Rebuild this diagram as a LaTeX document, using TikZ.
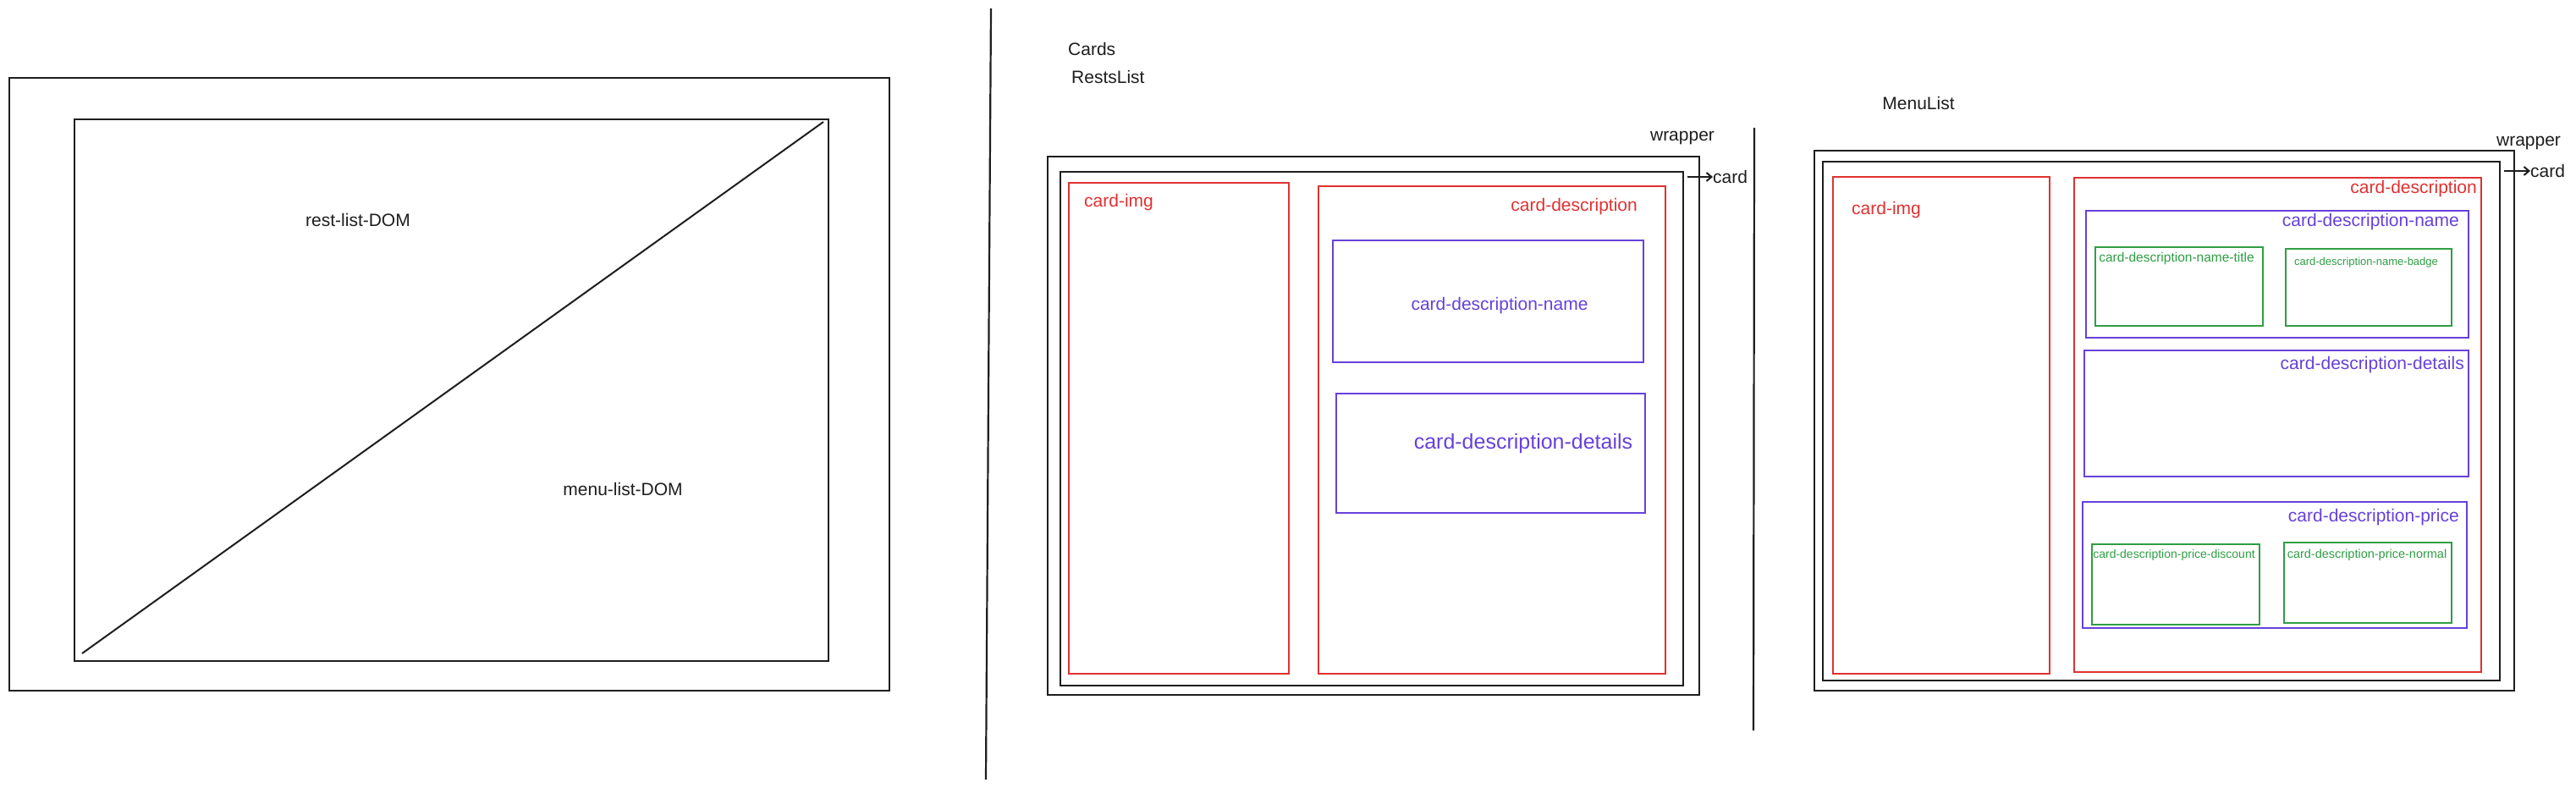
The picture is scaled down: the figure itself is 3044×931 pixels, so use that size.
\documentclass[tikz,border=0pt]{standalone}
\usepackage{fontspec}
\setmainfont{Liberation Sans}
\usetikzlibrary{arrows.meta}
\definecolor{ink}{HTML}{1E1E1E}
\definecolor{xred}{HTML}{E03131}
\definecolor{xblue}{HTML}{6741D9}
\definecolor{xgreen}{HTML}{2F9E44}
\newcommand\rbox[6]{\node[#2, anchor=north west, minimum width={#5-#3}, minimum height={#6-#4}] (#1) at (#3,#4) {};}
\tikzset{
  blackbox/.style={draw=ink, line width=2.2pt, inner sep=0pt},
  redbox/.style={draw=xred, line width=1.9pt, inner sep=0pt},
  bluebox/.style={draw=xblue, line width=1.9pt, inner sep=0pt},
  greenbox/.style={draw=xgreen, line width=1.8pt, inner sep=0pt},
  lbl/.style={inner sep=0pt, text=ink, font=\fontsize{21}{25}\selectfont},
  redlbl/.style={lbl, text=xred},
  bluelbl/.style={lbl, text=xblue},
  greenlbl/.style={lbl, text=xgreen, font=\fontsize{14.5}{17}\selectfont},
  divider/.style={draw=ink, line width=2.2pt},
  arr/.style={draw=ink, line width=2pt, -{Straight Barb[length=6pt,width=10pt]}},
}
\begin{document}
\begin{tikzpicture}[x=1pt,y=-1pt]
\useasboundingbox[fill=white] (0,0) rectangle (3044,931);

% ---------- left panel ----------
\rbox{louter}{blackbox}{10}{91}{1050}{815}
\rbox{linner}{blackbox}{87}{140}{978}{780}
\coordinate (dA) at (97,772);
\coordinate (dB) at (973,144);
\draw[divider, line width=2pt] (dA) -- (dB);
\node[lbl] (restdom) at (423,260) {rest-list-DOM};
\node[lbl] (menudom) at (736,578) {menu-list-DOM};

% dividers
\coordinate (v1a) at (1171,10);
\coordinate (v1b) at (1165,921);
\draw[divider] (v1a) -- (v1b);
\coordinate (v2a) at (2073,151);
\coordinate (v2b) at (2072,863);
\draw[divider] (v2a) -- (v2b);

% ---------- middle panel ----------
\node[lbl, anchor=west] (cards) at (1262,58) {Cards};
\node[lbl, anchor=west] (restslist) at (1266,91) {RestsList};
\rbox{mwrap}{blackbox}{1237}{184}{2007}{820}
\rbox{mcard}{blackbox}{1252}{202}{1988}{809}
\node[lbl] (mwraplbl) at (1988,163) {wrapper};
\node[lbl, anchor=west] (mcardlbl) at (2024,209) {card};
\coordinate (marr) at (1994,209);
\draw[arr] (marr) -- (mcardlbl.west);
\rbox{mimg}{redbox}{1262}{215}{1522}{795}
\node[redlbl, anchor=west] (mimglbl) at (1281,239) {card-img};
\rbox{mdesc}{redbox}{1557}{219}{1967}{795}
\node[redlbl, anchor=east] (mdesclbl) at (1935,244) {card-description};
\rbox{mname}{bluebox}{1574}{283}{1941}{427}
\node[bluelbl] (mnamelbl) at (1772,361) {card-description-name};
\rbox{mdet}{bluebox}{1578}{464}{1943}{605}
\node[bluelbl, font=\fontsize{25}{30}\selectfont] (mdetlbl) at (1800,524) {card-description-details};

% ---------- right panel ----------
\node[lbl] (menulist) at (2267,122) {MenuList};
\rbox{rwrap}{blackbox}{2143}{177}{2970}{815}
\rbox{rcard}{blackbox}{2153}{190}{2953}{803}
\node[lbl] (rwraplbl) at (2988,169) {wrapper};
\node[lbl, anchor=west] (rcardlbl) at (2990,202) {card};
\coordinate (rarr) at (2959,202);
\draw[arr] (rarr) -- (rcardlbl.west);
\rbox{rimg}{redbox}{2165}{208}{2421}{795}
\node[redlbl] (rimglbl) at (2229,248) {card-img};
\rbox{rdesc}{redbox}{2450}{209}{2931}{793}
\node[redlbl, anchor=east] (rdesclbl) at (2927,223) {card-description};
\rbox{rname}{bluebox}{2464}{248}{2916}{398}
\node[bluelbl, anchor=east] (rnamelbl) at (2906,262) {card-description-name};
\rbox{rtitle}{greenbox}{2475}{291}{2673}{384}
\node[greenlbl, font=\fontsize{15.5}{18}\selectfont] (rtitlelbl) at (2572,305) {card-description-name-title};
\rbox{rbadge}{greenbox}{2700}{293}{2896}{384}
\node[greenlbl, font=\fontsize{13}{16}\selectfont] (rbadgelbl) at (2796,310) {card-description-name-badge};
\rbox{rdet}{bluebox}{2462}{413}{2916}{562}
\node[bluelbl, anchor=east] (rdetlbl) at (2912,431) {card-description-details};
\rbox{rprice}{bluebox}{2460}{592}{2914}{741}
\node[bluelbl, anchor=east] (rpricelbl) at (2906,611) {card-description-price};
\rbox{rdisc}{greenbox}{2471}{642}{2669}{737}
\node[greenlbl, font=\fontsize{14}{17}\selectfont] (rdisclbl) at (2569,656) {card-description-price-discount};
\rbox{rnorm}{greenbox}{2698}{640}{2896}{735}
\node[greenlbl] (rnormlbl) at (2797,656) {card-description-price-normal};
\end{tikzpicture}
\end{document}
